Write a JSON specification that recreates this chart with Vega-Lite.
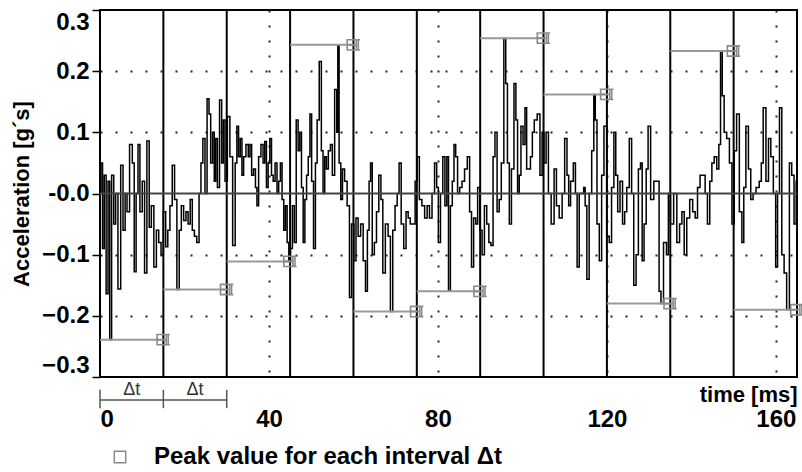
{
  "$schema": "https://vega.github.io/schema/vega-lite/v6.json",
  "width": 697,
  "height": 367,
  "autosize": "none",
  "padding": {"left": 100, "top": 10, "right": 5, "bottom": 95},
  "background": "white",
  "config": {
    "view": {"stroke": "black", "strokeWidth": 2},
    "font": "Liberation Sans"
  },
  "datasets": {
    "wave": [
      {"t":0.0,"a":0.0},{"t":0.4,"a":0.05},{"t":0.8,"a":-0.09},{"t":1.2,"a":0.03},{"t":1.7,"a":-0.164},{"t":2.1,"a":0.02},{"t":2.5,"a":-0.239},{"t":3.0,"a":0.03},{"t":3.5,"a":-0.05},{"t":3.9,"a":0.0},
      {"t":4.6,"a":-0.156},{"t":5.2,"a":0.046},{"t":5.7,"a":-0.06},{"t":6.2,"a":0.0},{"t":6.6,"a":-0.03},{"t":7.4,"a":0.08},{"t":7.9,"a":0.05},{"t":8.3,"a":-0.128},{"t":8.8,"a":0.0},{"t":9.2,"a":0.08},
      {"t":9.7,"a":-0.03},{"t":10.3,"a":0.02},{"t":10.8,"a":-0.13},{"t":11.4,"a":0.086},{"t":11.9,"a":-0.055},{"t":12.4,"a":-0.02},{"t":13.1,"a":-0.12},{"t":13.6,"a":-0.06},{"t":14.2,"a":-0.08},{"t":14.7,"a":-0.1},
      {"t":15.3,"a":-0.03},{"t":15.8,"a":-0.087},{"t":16.3,"a":-0.06},{"t":16.8,"a":-0.02},{"t":17.4,"a":0.046},{"t":17.9,"a":-0.01},{"t":18.5,"a":-0.157},{"t":19.0,"a":-0.06},{"t":19.5,"a":-0.02},{"t":20.1,"a":-0.044},
      {"t":20.6,"a":-0.03},{"t":21.1,"a":-0.05},{"t":21.6,"a":-0.01},{"t":22.1,"a":-0.06},{"t":22.6,"a":-0.07},{"t":23.2,"a":-0.08},{"t":23.7,"a":0.0},{"t":24.1,"a":0.05},{"t":24.6,"a":0.09},{"t":25.1,"a":0.0},
      {"t":25.6,"a":0.155},{"t":26.0,"a":0.13},{"t":26.4,"a":0.05},{"t":26.9,"a":0.1},{"t":27.2,"a":0.02},{"t":27.6,"a":0.09},{"t":28.0,"a":0.01},{"t":28.6,"a":0.153},{"t":29.0,"a":0.05},{"t":29.4,"a":0.12},
      {"t":29.8,"a":0.02},{"t":30.5,"a":0.126},{"t":31.0,"a":0.06},{"t":31.8,"a":-0.085},{"t":32.2,"a":0.05},{"t":32.6,"a":0.11},{"t":33.0,"a":0.06},{"t":33.4,"a":0.09},{"t":33.8,"a":0.03},{"t":34.2,"a":0.06},
      {"t":34.9,"a":0.08},{"t":35.3,"a":0.06},{"t":35.7,"a":0.08},{"t":36.1,"a":0.03},{"t":36.6,"a":0.04},{"t":37.0,"a":0.01},{"t":37.3,"a":-0.02},{"t":37.8,"a":0.06},{"t":38.4,"a":0.08},{"t":38.8,"a":0.05},
      {"t":39.2,"a":0.085},{"t":39.6,"a":0.01},{"t":40.0,"a":0.05},{"t":40.4,"a":0.09},{"t":40.8,"a":0.03},{"t":41.2,"a":0.02},{"t":41.7,"a":0.05},{"t":42.1,"a":0.0},{"t":42.5,"a":0.02},{"t":42.9,"a":0.05},
      {"t":43.3,"a":-0.01},{"t":43.7,"a":-0.06},{"t":44.1,"a":-0.02},{"t":44.5,"a":-0.08},{"t":44.9,"a":-0.111},{"t":45.3,"a":-0.09},{"t":45.8,"a":-0.02},{"t":46.2,"a":-0.08},{"t":46.7,"a":0.12},{"t":47.1,"a":0.07},
      {"t":47.5,"a":0.1},{"t":47.9,"a":0.01},{"t":48.3,"a":-0.08},{"t":48.7,"a":-0.01},{"t":49.1,"a":0.03},{"t":49.5,"a":0.06},{"t":49.9,"a":0.13},{"t":50.3,"a":0.02},{"t":50.8,"a":-0.09},{"t":51.2,"a":0.05},
      {"t":51.6,"a":0.12},{"t":52.2,"a":0.216},{"t":52.6,"a":0.07},{"t":53.0,"a":0.0},{"t":53.4,"a":0.06},{"t":53.8,"a":0.04},{"t":54.3,"a":0.07},{"t":54.8,"a":0.08},{"t":55.2,"a":0.03},{"t":55.9,"a":0.17},
      {"t":56.2,"a":0.1},{"t":56.4,"a":0.243},{"t":56.8,"a":0.05},{"t":57.2,"a":-0.01},{"t":57.6,"a":0.04},{"t":58.2,"a":0.02},{"t":58.8,"a":-0.02},{"t":59.3,"a":-0.17},{"t":59.8,"a":-0.05},{"t":60.4,"a":-0.11},
      {"t":60.8,"a":-0.04},{"t":61.4,"a":-0.07},{"t":62.0,"a":-0.05},{"t":62.6,"a":-0.11},{"t":63.1,"a":-0.16},{"t":63.5,"a":-0.06},{"t":63.9,"a":0.02},{"t":64.2,"a":0.05},{"t":64.7,"a":-0.1},{"t":65.2,"a":-0.08},
      {"t":65.7,"a":-0.03},{"t":66.3,"a":0.03},{"t":66.7,"a":-0.01},{"t":67.2,"a":-0.13},{"t":67.9,"a":-0.05},{"t":68.5,"a":-0.07},{"t":69.0,"a":-0.193},{"t":69.6,"a":-0.06},{"t":70.1,"a":-0.02},{"t":70.6,"a":0.0},
      {"t":71.0,"a":0.05},{"t":71.6,"a":-0.05},{"t":72.2,"a":-0.09},{"t":72.7,"a":-0.03},{"t":73.2,"a":-0.04},{"t":73.7,"a":-0.05},{"t":74.3,"a":-0.05},{"t":74.9,"a":0.02},{"t":75.3,"a":0.06},{"t":75.9,"a":-0.01},
      {"t":76.5,"a":-0.02},{"t":77.2,"a":-0.04},{"t":77.7,"a":-0.02},{"t":78.3,"a":-0.04},{"t":78.9,"a":0.0},{"t":79.5,"a":0.05},{"t":79.9,"a":0.01},{"t":80.3,"a":-0.08},{"t":80.9,"a":0.0},{"t":81.4,"a":0.06},
      {"t":81.9,"a":-0.02},{"t":82.3,"a":0.06},{"t":82.7,"a":-0.16},{"t":83.2,"a":-0.02},{"t":83.6,"a":0.02},{"t":84.0,"a":0.08},{"t":84.4,"a":0.06},{"t":84.9,"a":0.0},{"t":85.4,"a":0.01},{"t":86.0,"a":0.02},
      {"t":86.6,"a":0.04},{"t":87.3,"a":0.06},{"t":87.7,"a":-0.03},{"t":88.2,"a":-0.12},{"t":88.7,"a":-0.04},{"t":89.2,"a":-0.05},{"t":89.6,"a":0.01},{"t":90.2,"a":-0.06},{"t":90.7,"a":-0.1},{"t":91.3,"a":-0.02},
      {"t":91.8,"a":-0.05},{"t":92.3,"a":-0.08},{"t":92.8,"a":-0.085},{"t":93.3,"a":0.06},{"t":93.7,"a":0.1},{"t":94.3,"a":-0.03},{"t":94.7,"a":-0.01},{"t":95.3,"a":0.05},{"t":95.9,"a":0.254},{"t":96.2,"a":0.18},
      {"t":96.7,"a":0.05},{"t":97.1,"a":-0.05},{"t":97.7,"a":0.04},{"t":98.3,"a":0.18},{"t":98.6,"a":0.12},{"t":99.1,"a":0.0},{"t":99.4,"a":0.03},{"t":99.9,"a":0.11},{"t":100.4,"a":0.08},{"t":100.8,"a":0.14},
      {"t":101.2,"a":0.04},{"t":101.6,"a":0.04},{"t":102.2,"a":0.06},{"t":102.5,"a":0.1},{"t":103.1,"a":0.12},{"t":103.9,"a":0.13},{"t":104.4,"a":0.03},{"t":104.9,"a":0.1},{"t":105.3,"a":0.05},{"t":105.9,"a":0.1},
      {"t":106.4,"a":0.0},{"t":107.2,"a":-0.05},{"t":107.8,"a":0.04},{"t":108.3,"a":-0.02},{"t":109.1,"a":-0.04},{"t":109.7,"a":0.0},{"t":110.3,"a":0.09},{"t":110.8,"a":0.03},{"t":111.1,"a":-0.02},{"t":111.7,"a":0.02},
      {"t":112.4,"a":0.05},{"t":112.7,"a":0.0},{"t":113.2,"a":-0.12},{"t":113.7,"a":0.0},{"t":114.3,"a":0.0},{"t":114.7,"a":0.01},{"t":115.0,"a":-0.02},{"t":115.5,"a":-0.14},{"t":116.1,"a":0.0},{"t":116.7,"a":0.07},
      {"t":117.1,"a":0.162},{"t":117.4,"a":0.12},{"t":117.9,"a":-0.05},{"t":118.5,"a":-0.11},{"t":119.0,"a":0.03},{"t":119.6,"a":0.11},{"t":120.3,"a":-0.07},{"t":120.8,"a":-0.08},{"t":121.4,"a":0.01},{"t":121.9,"a":0.1},
      {"t":122.3,"a":0.03},{"t":122.8,"a":-0.03},{"t":123.4,"a":0.02},{"t":124.0,"a":-0.05},{"t":124.4,"a":-0.03},{"t":125.0,"a":0.01},{"t":125.6,"a":0.09},{"t":126.1,"a":0.0},{"t":126.6,"a":-0.15},{"t":127.2,"a":-0.1},
      {"t":127.7,"a":0.04},{"t":128.2,"a":0.05},{"t":128.5,"a":-0.11},{"t":129.1,"a":-0.05},{"t":129.5,"a":0.04},{"t":130.0,"a":0.11},{"t":130.7,"a":-0.01},{"t":131.5,"a":0.02},{"t":132.1,"a":0.02},{"t":132.6,"a":-0.16},
      {"t":133.0,"a":-0.18},{"t":133.8,"a":-0.08},{"t":134.4,"a":-0.1},{"t":134.7,"a":0.0},{"t":135.4,"a":-0.05},{"t":136.2,"a":0.0},{"t":136.9,"a":-0.08},{"t":137.5,"a":-0.05},{"t":138.0,"a":-0.03},{"t":138.6,"a":-0.1},
      {"t":139.2,"a":-0.04},{"t":140.0,"a":-0.01},{"t":140.6,"a":-0.03},{"t":141.2,"a":-0.04},{"t":141.7,"a":0.01},{"t":142.4,"a":0.03},{"t":143.0,"a":0.03},{"t":143.5,"a":0.0},{"t":144.1,"a":-0.05},{"t":144.6,"a":0.02},
      {"t":145.1,"a":0.05},{"t":145.7,"a":0.06},{"t":146.3,"a":0.04},{"t":146.7,"a":0.08},{"t":147.1,"a":0.233},{"t":147.5,"a":0.16},{"t":148.0,"a":0.1},{"t":148.7,"a":0.09},{"t":149.3,"a":0.05},{"t":149.9,"a":-0.05},
      {"t":150.4,"a":0.07},{"t":151.0,"a":0.13},{"t":151.7,"a":-0.03},{"t":152.2,"a":-0.08},{"t":152.6,"a":0.01},{"t":153.2,"a":0.11},{"t":153.8,"a":0.04},{"t":154.3,"a":-0.01},{"t":154.9,"a":0.0},{"t":155.7,"a":0.01},
      {"t":156.4,"a":0.02},{"t":156.7,"a":0.05},{"t":157.3,"a":0.14},{"t":158.0,"a":0.02},{"t":158.5,"a":0.09},{"t":159.1,"a":0.06},{"t":159.7,"a":0.0},{"t":160.2,"a":-0.12},{"t":160.6,"a":0.0},{"t":161.1,"a":0.14},
      {"t":161.7,"a":-0.1},{"t":162.2,"a":-0.13},{"t":162.9,"a":-0.19},{"t":163.5,"a":0.05},{"t":164.0,"a":0.03},{"t":164.6,"a":-0.05},{"t":165.0,"a":0.02}
    ],
    "peaks": [
      {"start":0,"end":15,"peak":-0.239},
      {"start":15,"end":30,"peak":-0.157},
      {"start":30,"end":45,"peak":-0.111},
      {"start":45,"end":60,"peak":0.243},
      {"start":60,"end":75,"peak":-0.193},
      {"start":75,"end":90,"peak":-0.16},
      {"start":90,"end":105,"peak":0.254},
      {"start":105,"end":120,"peak":0.162},
      {"start":120,"end":135,"peak":-0.18},
      {"start":135,"end":150,"peak":0.233},
      {"start":150,"end":165,"peak":-0.19}
    ],
    "bounds": [
      {"t":15},{"t":30},{"t":45},{"t":60},{"t":75},{"t":90},{"t":105},{"t":120},{"t":135},{"t":150}
    ],
    "zero": [{"a":0}],
    "brackets": [
      {"s":0,"e":15,"mid":7.5,"label":"Δt"},
      {"s":15,"e":30,"mid":22.5,"label":"Δt"}
    ],
    "bracketEnds": [{"t":0},{"t":15},{"t":30}]
  },
  "layer": [
    {
      "data": {"name": "wave"},
      "mark": {"type": "line", "interpolate": "step", "color": "black", "strokeWidth": 1.5},
      "encoding": {
        "x": {
          "field": "t", "type": "quantitative", "title": "time [ms]",
          "scale": {"domain": [0, 165], "nice": false, "zero": false},
          "axis": {
            "values": [0, 40, 80, 120, 160],
            "grid": true, "gridDash": [2, 13], "gridWidth": 2,
            "gridColor": {"condition": {"test": "datum.value < 1", "value": "transparent"}, "value": "#222"},
            "domain": false, "ticks": false,
            "labelPadding": 30, "labelFontSize": 24, "labelFontWeight": "bold", "labelColor": "black",
            "titleFontSize": 22, "titleFontWeight": "bold", "titleColor": "black",
            "titleAnchor": "end", "titleAlign": "right", "titleBaseline": "middle", "titleX": 697, "titleY": 17
          }
        },
        "y": {
          "field": "a", "type": "quantitative", "title": "Acceleration [g´s]",
          "scale": {"domain": [-0.3, 0.3], "nice": false, "zero": false},
          "axis": {
            "values": [-0.3, -0.2, -0.1, 0, 0.1, 0.2, 0.3],
            "labelExpr": "abs(datum.value) < 0.001 ? '-0.0' : format(datum.value, '.1f')",
            "labelFlush": true,
            "grid": true, "gridDash": [2, 13], "gridWidth": 2,
            "gridColor": {"condition": {"test": "abs(datum.value) < 0.01 || abs(datum.value) > 0.29", "value": "transparent"}, "value": "#222"},
            "domain": false, "tickSize": 8, "tickWidth": 1.5, "tickColor": "black",
            "labelPadding": 3, "labelFontSize": 24, "labelFontWeight": "bold", "labelColor": "black",
            "titleFontSize": 22, "titleFontWeight": "bold", "titleColor": "black",
            "titlePadding": 8
          }
        }
      }
    },
    {
      "data": {"name": "bounds"},
      "mark": {"type": "rule", "color": "black", "strokeWidth": 2},
      "encoding": {"x": {"field": "t", "type": "quantitative", "title": "time [ms]"}}
    },
    {
      "data": {"name": "zero"},
      "mark": {"type": "rule", "color": "#444", "strokeWidth": 2},
      "encoding": {"y": {"field": "a", "type": "quantitative", "title": "Acceleration [g´s]"}}
    },
    {
      "data": {"name": "peaks"},
      "mark": {"type": "rule", "color": "#999", "strokeWidth": 2},
      "encoding": {
        "x": {"field": "start", "type": "quantitative", "title": "time [ms]"},
        "x2": {"field": "end"},
        "y": {"field": "peak", "type": "quantitative", "title": "Acceleration [g´s]"}
      }
    },
    {
      "data": {"name": "peaks"},
      "mark": {"type": "point", "filled": false, "strokeWidth": 1.6, "size": 130, "opacity": 1,
               "shape": "M-1.1,-0.9H0.5V0.9H-1.1Z M-1.1,0H0.5 M0.85,-0.9V0.9 M0.55,-0.9H1.15 M0.55,0.9H1.15"},
      "encoding": {
        "x": {"field": "end", "type": "quantitative", "title": "time [ms]"},
        "y": {"field": "peak", "type": "quantitative", "title": "Acceleration [g´s]"},
        "color": {
          "datum": "Peak value for each interval  Δt",
          "scale": {"range": ["#8a8a8a"]},
          "legend": {
            "orient": "none", "legendX": 8, "legendY": 435, "padding": 0,
            "title": null, "symbolType": "square", "symbolSize": 130, "symbolStrokeWidth": 1.5,
            "symbolStrokeColor": "#8a8a8a",
            "labelFontSize": 24, "labelFontWeight": "bold", "labelColor": "black",
            "labelOffset": 22, "labelLimit": 600
          }
        }
      }
    },
    {
      "data": {"name": "brackets"},
      "mark": {"type": "rule", "color": "#555", "strokeWidth": 1.5},
      "encoding": {
        "x": {"field": "s", "type": "quantitative", "title": "time [ms]"},
        "x2": {"field": "e"},
        "y": {"datum": -0.3376, "type": "quantitative", "title": "Acceleration [g´s]"}
      }
    },
    {
      "data": {"name": "bracketEnds"},
      "mark": {"type": "rule", "color": "#555", "strokeWidth": 1.5},
      "encoding": {
        "x": {"field": "t", "type": "quantitative", "title": "time [ms]"},
        "y": {"datum": -0.321, "type": "quantitative", "title": "Acceleration [g´s]"},
        "y2": {"datum": -0.351}
      }
    },
    {
      "data": {"name": "brackets"},
      "mark": {"type": "text", "fontSize": 18, "color": "#333", "baseline": "middle", "align": "center"},
      "encoding": {
        "x": {"field": "mid", "type": "quantitative", "title": "time [ms]"},
        "y": {"datum": -0.322, "type": "quantitative", "title": "Acceleration [g´s]"},
        "text": {"field": "label"}
      }
    }
  ]
}
